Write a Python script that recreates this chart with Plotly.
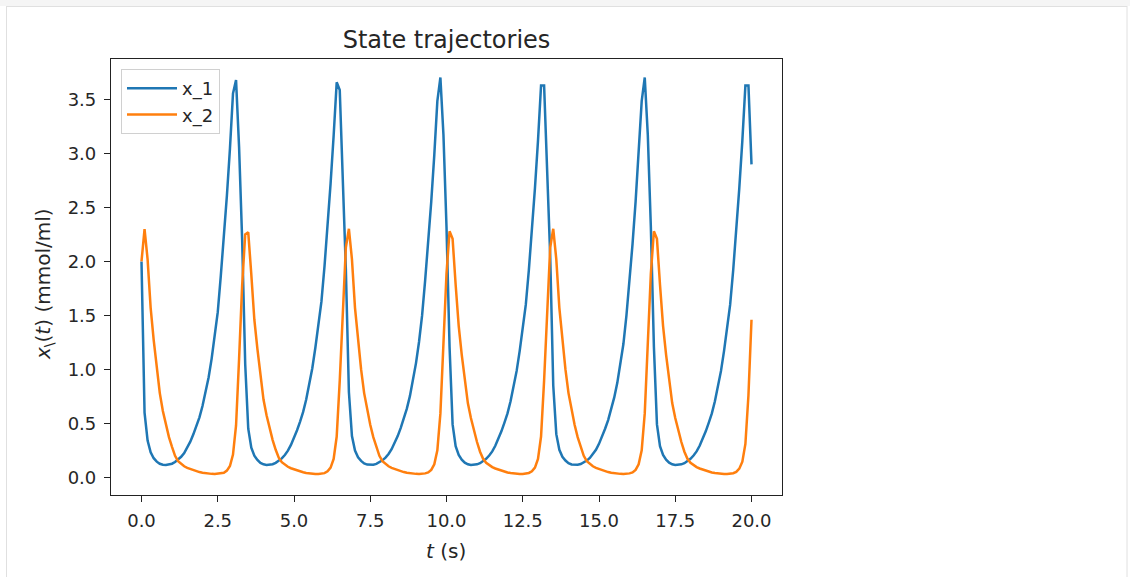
import plotly.graph_objects as go

# time samples (s)
t = [
    0.0, 0.1, 0.2, 0.3, 0.4, 0.5, 0.6, 0.7, 0.8, 0.9,
    1.0, 1.1, 1.2, 1.3, 1.4, 1.5, 1.6, 1.7, 1.8, 1.9,
    2.0, 2.1, 2.2, 2.3, 2.4, 2.5, 2.6, 2.7, 2.8, 2.9,
    3.0, 3.1, 3.2, 3.3, 3.4, 3.5, 3.6, 3.7, 3.8, 3.9,
    4.0, 4.1, 4.2, 4.3, 4.4, 4.5, 4.6, 4.7, 4.8, 4.9,
    5.0, 5.1, 5.2, 5.3, 5.4, 5.5, 5.6, 5.7, 5.8, 5.9,
    6.0, 6.1, 6.2, 6.3, 6.4, 6.5, 6.6, 6.7, 6.8, 6.9,
    7.0, 7.1, 7.2, 7.3, 7.4, 7.5, 7.6, 7.7, 7.8, 7.9,
    8.0, 8.1, 8.2, 8.3, 8.4, 8.5, 8.6, 8.7, 8.8, 8.9,
    9.0, 9.1, 9.2, 9.3, 9.4, 9.5, 9.6, 9.7, 9.8, 9.9,
    10.0, 10.1, 10.2, 10.3, 10.4, 10.5, 10.6, 10.7, 10.8, 10.9,
    11.0, 11.1, 11.2, 11.3, 11.4, 11.5, 11.6, 11.7, 11.8, 11.9,
    12.0, 12.1, 12.2, 12.3, 12.4, 12.5, 12.6, 12.7, 12.8, 12.9,
    13.0, 13.1, 13.2, 13.3, 13.4, 13.5, 13.6, 13.7, 13.8, 13.9,
    14.0, 14.1, 14.2, 14.3, 14.4, 14.5, 14.6, 14.7, 14.8, 14.9,
    15.0, 15.1, 15.2, 15.3, 15.4, 15.5, 15.6, 15.7, 15.8, 15.9,
    16.0, 16.1, 16.2, 16.3, 16.4, 16.5, 16.6, 16.7, 16.8, 16.9,
    17.0, 17.1, 17.2, 17.3, 17.4, 17.5, 17.6, 17.7, 17.8, 17.9,
    18.0, 18.1, 18.2, 18.3, 18.4, 18.5, 18.6, 18.7, 18.8, 18.9,
    19.0, 19.1, 19.2, 19.3, 19.4, 19.5, 19.6, 19.7, 19.8, 19.9,
    20.0,
]

# x_1 (mmol/ml)
x_1 = [
    2.0, 0.60, 0.34, 0.232, 0.177, 0.145, 0.125, 0.116, 0.115, 0.1175,
    0.126, 0.142, 0.162, 0.19, 0.224, 0.272, 0.33, 0.398, 0.476, 0.556,
    0.661, 0.78, 0.925, 1.10, 1.304, 1.53, 1.866, 2.21, 2.61, 3.045,
    3.556, 3.68, 3.055, 2.20, 1.05, 0.45, 0.274, 0.20, 0.16, 0.134,
    0.12, 0.115, 0.116, 0.121, 0.134, 0.152, 0.175, 0.207, 0.247, 0.30,
    0.363, 0.436, 0.516, 0.606, 0.72, 0.85, 1.01, 1.20, 1.416, 1.63,
    1.954, 2.31, 2.724, 3.167, 3.66, 3.589, 2.82, 1.93, 0.79, 0.382,
    0.248, 0.186, 0.152, 0.129, 0.118, 0.115, 0.117, 0.124, 0.138, 0.157,
    0.183, 0.216, 0.26, 0.316, 0.382, 0.458, 0.538, 0.636, 0.752, 0.89,
    1.058, 1.256, 1.50, 1.824, 2.162, 2.554, 2.988, 3.486, 3.705, 3.173,
    2.32, 1.21, 0.49, 0.288, 0.208, 0.164, 0.136, 0.1206, 0.115, 0.1156,
    0.12, 0.131, 0.149, 0.171, 0.202, 0.24, 0.292, 0.354, 0.426, 0.506,
    0.592, 0.704, 0.83, 0.986, 1.172, 1.386, 1.60, 1.92, 2.27, 2.68,
    3.12, 3.63, 3.63, 2.90, 2.05, 0.85, 0.40, 0.255, 0.19, 0.155,
    0.131, 0.1185, 0.1155, 0.1165, 0.123, 0.136, 0.155, 0.18, 0.2125, 0.255,
    0.31, 0.375, 0.45, 0.53, 0.625, 0.74, 0.875, 1.04, 1.235, 1.50,
    1.824, 2.162, 2.554, 2.988, 3.486, 3.705, 3.173, 2.32, 1.21, 0.49,
    0.288, 0.208, 0.164, 0.136, 0.1206, 0.115, 0.1156, 0.12, 0.131, 0.149,
    0.171, 0.202, 0.24, 0.292, 0.354, 0.426, 0.506, 0.592, 0.704, 0.83,
    0.986, 1.172, 1.386, 1.60, 1.92, 2.27, 2.68, 3.12, 3.63, 3.63,
    2.90,
]

# x_2 (mmol/ml)
x_2 = [
    2.0, 2.30, 2.02, 1.57, 1.27, 1.0, 0.78, 0.614, 0.486, 0.372,
    0.282, 0.199, 0.149, 0.121, 0.102, 0.0876, 0.076, 0.066, 0.0564, 0.0486,
    0.042, 0.037, 0.0336, 0.0318, 0.0312, 0.0326, 0.0364, 0.042, 0.062, 0.105,
    0.21, 0.48, 1.10, 1.78, 2.25, 2.27, 1.88, 1.46, 1.19, 0.93,
    0.72, 0.575, 0.45, 0.345, 0.255, 0.1825, 0.14, 0.115, 0.0975, 0.084,
    0.073, 0.063, 0.054, 0.0465, 0.0405, 0.036, 0.033, 0.0315, 0.0315, 0.0335,
    0.0385, 0.055, 0.09, 0.171, 0.378, 0.896, 1.588, 2.13, 2.303, 2.02,
    1.57, 1.27, 1.0, 0.78, 0.614, 0.486, 0.372, 0.282, 0.199, 0.149,
    0.121, 0.102, 0.0876, 0.076, 0.066, 0.0564, 0.0486, 0.042, 0.037, 0.0336,
    0.0318, 0.0312, 0.0326, 0.0364, 0.045, 0.069, 0.121, 0.25, 0.592, 1.244,
    1.888, 2.28, 2.21, 1.784, 1.404, 1.134, 0.886, 0.688, 0.549, 0.426,
    0.327, 0.237, 0.1715, 0.134, 0.111, 0.0945, 0.0816, 0.071, 0.061, 0.0524,
    0.0451, 0.0395, 0.0352, 0.0326, 0.0313, 0.0317, 0.0341, 0.040, 0.055, 0.09,
    0.171, 0.378, 0.896, 1.588, 2.13, 2.303, 2.02, 1.57, 1.27, 1.0,
    0.78, 0.614, 0.486, 0.372, 0.282, 0.199, 0.149, 0.121, 0.102, 0.0876,
    0.076, 0.066, 0.0564, 0.0486, 0.042, 0.037, 0.0336, 0.0318, 0.0312, 0.0326,
    0.0364, 0.045, 0.069, 0.121, 0.25, 0.592, 1.244, 1.888, 2.28, 2.21,
    1.784, 1.404, 1.134, 0.886, 0.688, 0.549, 0.426, 0.327, 0.237, 0.1715,
    0.134, 0.111, 0.0945, 0.0816, 0.071, 0.061, 0.0524, 0.0451, 0.0395, 0.0352,
    0.0326, 0.0313, 0.0317, 0.0341, 0.038, 0.05, 0.08, 0.145, 0.31, 0.76,
    1.46,
]

x_ticks = [0.0, 2.5, 5.0, 7.5, 10.0, 12.5, 15.0, 17.5, 20.0]
y_ticks = [0.0, 0.5, 1.0, 1.5, 2.0, 2.5, 3.0, 3.5]

FONT = "DejaVu Sans"
TXT = "#262626"

fig = go.Figure()
fig.add_trace(go.Scatter(x=t, y=x_1, mode="lines", name="x_1",
                         line=dict(color="#1f77b4", width=2.5)))
fig.add_trace(go.Scatter(x=t, y=x_2, mode="lines", name="x_2",
                         line=dict(color="#ff7f0e", width=2.5)))

L, R, T, B = 111, 348, 59, 82
W, H = 1130, 577
pw = W - L - R
ph = H - T - B


def px(xp):
    return (xp - L) / pw


def py(yp):
    return (H - B - yp) / ph


axis_common = dict(
    showgrid=False, zeroline=False, showline=True, mirror=True,
    linecolor="#222222", linewidth=1.2,
    ticks="outside", ticklen=6, tickwidth=1.2, tickcolor="#222222",
    tickfont=dict(family=FONT, size=18, color=TXT),
    tickformat=".1f",
)

fig.update_layout(
    width=W, height=H,
    margin=dict(l=L, r=R, t=T, b=B, pad=0),
    paper_bgcolor="white", plot_bgcolor="white",
    font=dict(family=FONT, size=18, color=TXT),
    title=dict(text="State trajectories", x=0.5, xref="paper",
               y=1 - 40 / H, yref="container", xanchor="center", yanchor="middle",
               font=dict(family=FONT, size=24, color=TXT)),
    xaxis=dict(range=[-1.0, 21.0], tickvals=x_ticks, ticklabelstandoff=3, **axis_common),
    yaxis=dict(range=[-0.164, 3.876], tickvals=y_ticks, ticklabelstandoff=4, **axis_common),
    legend=dict(x=px(121), y=py(69), xanchor="left", yanchor="top",
                bgcolor="rgba(255,255,255,0.8)", bordercolor="#d0d0d0", borderwidth=1,
                font=dict(family=FONT, size=18, color=TXT),
                tracegroupgap=0, itemwidth=50),
    showlegend=True,
    annotations=[
        dict(text="<i>t</i> (s)", xref="paper", yref="paper",
             x=px(446), y=py(551), xanchor="center", yanchor="middle",
             showarrow=False, font=dict(family=FONT, size=20, color=TXT)),
        dict(text="<i>x</i><sub>\\</sub>(<i>t</i>) (mmol/ml)", xref="paper", yref="paper",
             x=px(44), y=py(284), xanchor="center", yanchor="middle", textangle=-90,
             showarrow=False, font=dict(family=FONT, size=20, color=TXT)),
    ],
    shapes=[
        dict(type="rect", xref="paper", yref="paper",
             x0=px(0), x1=px(W), y0=py(6), y1=py(0),
             fillcolor="#f5f5f5", line=dict(width=0), layer="below"),
        dict(type="line", xref="paper", yref="paper",
             x0=px(6), x1=px(1127), y0=py(6.5), y1=py(6.5),
             line=dict(color="#e0e0e0", width=1)),
        dict(type="line", xref="paper", yref="paper",
             x0=px(6.5), x1=px(6.5), y0=py(6), y1=py(H),
             line=dict(color="#e0e0e0", width=1)),
        dict(type="line", xref="paper", yref="paper",
             x0=px(1127), x1=px(1127), y0=py(6), y1=py(H),
             line=dict(color="#e0e0e0", width=1)),
    ],
)

fig.write_html("out.html", config={"displayModeBar": False},
               post_script="document.body.style.margin='0';document.body.style.overflow='hidden';")
